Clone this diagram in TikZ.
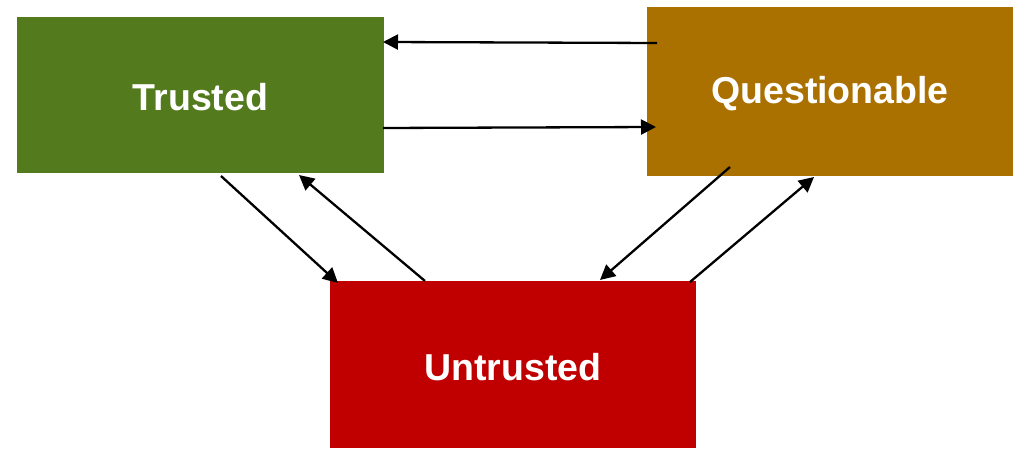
\documentclass[tikz,border=0pt]{standalone}
\usepackage{fontspec}
\setmainfont{Liberation Sans}
\usetikzlibrary{arrows.meta}
\definecolor{trustgreen}{RGB}{83,123,29}
\definecolor{questorange}{RGB}{171,113,0}
\definecolor{untrustred}{RGB}{192,0,0}
\newcommand{\statelabel}[1]{\raisebox{-2.5pt}[\height][\depth]{#1}}
\tikzset{
  state/.style={rectangle, inner sep=0pt, text=white,
    font=\fontsize{37.5}{41}\selectfont\bfseries},
  link/.style={line width=2.3pt, -{Triangle[length=15pt,width=15pt]}},
}
\begin{document}
\begin{tikzpicture}[x=1pt,y=-1pt]
  \useasboundingbox (0,0) rectangle (1025,454);
  % states
  \node[state, fill=trustgreen, minimum width=367pt, minimum height=156pt] (T) at (200.5,95) {\statelabel{Trusted}};
  \node[state, fill=questorange, minimum width=366pt, minimum height=169pt] (Q) at (830,91.5) {\statelabel{Questionable}};
  \node[state, fill=untrustred, minimum width=366pt, minimum height=167pt] (U) at (513,364.5) {\statelabel{Untrusted}};
  % arrow end points on the box edges
  \coordinate (q1) at (657,43);
  \coordinate (t1) at (383,42);
  \coordinate (t2) at (383,128);
  \coordinate (q2) at (656,127);
  \coordinate (t3) at (221,176);
  \coordinate (u3) at (338,283);
  \coordinate (u4) at (425,281);
  \coordinate (t4) at (299,175);
  \coordinate (q5) at (730,167);
  \coordinate (u5) at (600,280);
  \coordinate (u6) at (690,282);
  \coordinate (q6) at (814,177);
  % transitions
  \draw[link] (q1) -- (t1);
  \draw[link] (t2) -- (q2);
  \draw[link] (t3) -- (u3);
  \draw[link] (u4) -- (t4);
  \draw[link] (q5) -- (u5);
  \draw[link] (u6) -- (q6);
\end{tikzpicture}
\end{document}
